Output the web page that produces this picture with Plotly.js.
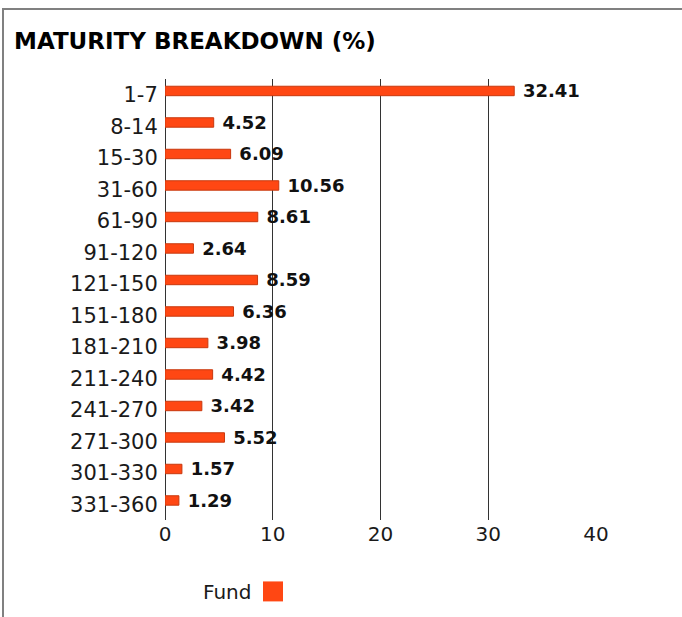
<!DOCTYPE html>
<html>
<head>
<meta charset="utf-8">
<script src="https://cdn.plot.ly/plotly-3.0.1.min.js"></script>
<style>
  html, body { margin: 0; padding: 0; background: #ffffff; overflow: hidden; }
  #frame { position: absolute; left: 2px; top: 8px; width: 720px; height: 660px;
           border-left: 2px solid #808080; border-top: 2px solid #808080; pointer-events: none; }
  #chart { position: absolute; left: 0; top: 0; width: 682px; height: 617px; }
</style>
</head>
<body>
<div id="chart"></div>
<div id="frame"></div>
<script>
const categories = ["1-7", "8-14", "15-30", "31-60", "61-90", "91-120", "121-150",
                    "151-180", "181-210", "211-240", "241-270", "271-300", "301-330", "331-360"];
const fundValues = [32.41, 4.52, 6.09, 10.56, 8.61, 2.64, 8.59, 6.36, 3.98, 4.42, 3.42, 5.52, 1.57, 1.29];
const xTicks = [0, 10, 20, 30, 40];
const seriesName = "Fund";
const chartTitle = "MATURITY BREAKDOWN (%)";

const W = 682, H = 617;
const ml = 165, mr = 86, mt = 79, mb = 96.5;
const plotH = H - mt - mb;
const plotW = W - ml - mr;
const orange = "#ff4713";

const trace = {
  type: "bar",
  orientation: "h",
  y: categories,
  x: fundValues,
  width: 0.3,
  offset: -0.27,
  marker: { color: orange, line: { color: "#c8380e", width: 1 } },
  text: fundValues.map(v => " <b>" + v.toFixed(2) + "</b>"),
  textposition: "outside",
  constraintext: "none",
  textfont: { family: "DejaVu Sans", size: 18, color: "#111111" },
  cliponaxis: false,
  showlegend: false,
  hoverinfo: "none"
};

// legend square position (pixels) converted to paper coords
const sqL = (263 - ml) / plotW, sqR = (283 - ml) / plotW;
const sqT = (H - mb - 582) / plotH, sqB = (H - mb - 602) / plotH;

const layout = {
  width: W, height: H,
  margin: { l: ml, r: mr, t: mt, b: mb, pad: 0 },
  paper_bgcolor: "rgba(0,0,0,0)",
  plot_bgcolor: "rgba(0,0,0,0)",
  font: { family: "DejaVu Sans", size: 20, color: "#1a1a1a" },
  title: {
    text: "<b>" + chartTitle + "</b>",
    font: { family: "DejaVu Sans", size: 23, color: "#000000" },
    xref: "container", yref: "container",
    x: 14 / W, xanchor: "left",
    y: 1 - 41 / H, yanchor: "middle"
  },
  xaxis: {
    range: [0, 40],
    tickvals: xTicks,
    ticktext: xTicks.map(String),
    showgrid: true,
    gridcolor: "#333333",
    gridwidth: 1,
    zeroline: true,
    zerolinecolor: "#333333",
    zerolinewidth: 1,
    showline: false,
    ticks: "",
    ticklabelstandoff: 0,
    tickfont: { family: "DejaVu Sans", size: 20, color: "#1a1a1a" },
    fixedrange: true
  },
  yaxis: {
    type: "category",
    categoryorder: "array",
    categoryarray: categories,
    range: [categories.length - 0.5, -0.5],
    showgrid: false,
    zeroline: false,
    showline: false,
    ticks: "outside", ticklen: 2, tickcolor: "rgba(0,0,0,0)",
    tickfont: { family: "DejaVu Sans", size: 21, color: "#1a1a1a" },
    fixedrange: true
  },
  showlegend: false,
  annotations: [{
    xref: "paper", yref: "paper",
    x: (253 - ml) / plotW, xanchor: "right",
    y: (H - mb - 593) / plotH, yanchor: "middle",
    text: seriesName, showarrow: false,
    font: { family: "DejaVu Sans", size: 20, color: "#1a1a1a" }
  }],
  shapes: [{
    type: "rect", xref: "paper", yref: "paper",
    x0: sqL, x1: sqR, y0: sqB, y1: sqT,
    fillcolor: orange, line: { width: 0 }
  }]
};

Plotly.newPlot("chart", [trace], layout, { staticPlot: true, displayModeBar: false });
</script>
</body>
</html>
